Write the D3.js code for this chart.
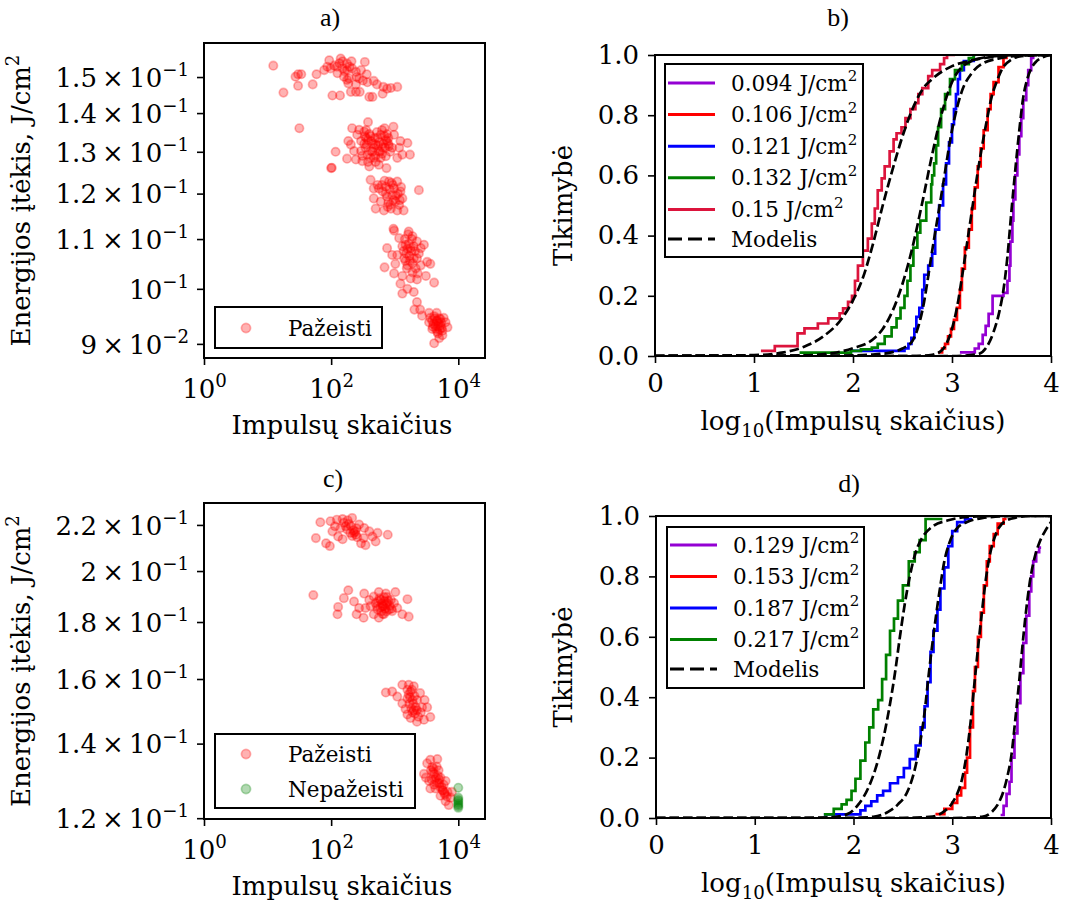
<!DOCTYPE html>
<html>
<head>
<meta charset="utf-8">
<script src="https://cdn.jsdelivr.net/npm/d3@7"></script>
<style>
body{margin:0;background:#fff}
svg{display:block}
</style>
</head>
<body>
<script>
// ---- duomenys: [log10(impulsu skaicius), energijos itekis J/cm2] ----
var scatA150 = [[1.09,0.1533],[1.25,0.1456],[1.44,0.1501],[1.48,0.1508],[1.53,0.1508],[1.48,0.1475],[1.71,0.1479],[1.77,0.1508],[1.89,0.1520],[1.97,0.1549],[1.99,0.1525],[2.05,0.1533],[2.15,0.1554],[2.18,0.1546],[2.25,0.1539],[2.32,0.1546],[2.10,0.1511],[2.20,0.1501],[2.28,0.1496],[2.39,0.1515],[2.44,0.1496],[2.56,0.1508],[2.53,0.1544],[2.57,0.1485],[2.67,0.1489],[2.72,0.1479],[2.82,0.1472],[2.88,0.1467],[3.04,0.1472],[2.02,0.1448],[2.14,0.1448],[2.31,0.1458],[2.39,0.1458],[2.45,0.1458],[2.60,0.1444],[2.65,0.1444],[2.81,0.1453],[2.94,0.1469],[2.27,0.1482],[2.39,0.1479],[2.09,0.1530],[2.21,0.1517],[1.94,0.1530],[2.33,0.1525],[2.25,0.1492],[2.47,0.1520],[2.18,0.1525],[2.25,0.1520],[2.13,0.1540],[2.29,0.1530],[2.40,0.1500],[2.50,0.1490]];
var scatA132 = [[1.50,0.1360],[2.07,0.1300],[2.00,0.1260],[2.01,0.1261],[2.25,0.1283],[2.27,0.1327],[2.33,0.1360],[2.44,0.1356],[2.52,0.1351],[2.58,0.1376],[2.47,0.1327],[2.56,0.1318],[2.62,0.1302],[2.36,0.1302],[2.39,0.1281],[2.49,0.1277],[2.60,0.1264],[2.67,0.1285],[2.70,0.1318],[2.78,0.1343],[2.84,0.1360],[2.98,0.1364],[2.88,0.1327],[2.96,0.1310],[3.09,0.1327],[3.20,0.1322],[3.24,0.1293],[3.12,0.1293],[3.04,0.1285],[2.87,0.1260],[2.75,0.1268],[2.81,0.1310],[2.53,0.1339],[2.41,0.1343],[2.73,0.1335],[2.63,0.1327],[2.57,0.1293],[2.86,0.1289],[2.99,0.1343],[2.91,0.1314],[2.47,0.1302],[2.67,0.1310],[2.78,0.1285],[3.07,0.1310],[2.31,0.1318],[2.75,0.1302],[2.52,0.1320],[2.55,0.1335],[2.60,0.1345],[2.65,0.1300],[2.70,0.1290],[2.76,0.1325],[2.80,0.1295],[2.84,0.1340],[2.90,0.1335],[2.93,0.1300],[2.58,0.1275],[2.72,0.1350],[2.85,0.1310],[2.49,0.1290],[2.54,0.1310],[2.58,0.1330],[2.62,0.1340],[2.66,0.1320],[2.69,0.1335],[2.74,0.1315],[2.77,0.1300],[2.82,0.1320],[2.86,0.1330],[2.90,0.1320],[2.62,0.1285],[2.70,0.1275],[2.55,0.1355],[2.88,0.1345],[2.80,0.1355]];
var scatA121 = [[2.62,0.1232],[2.73,0.1220],[2.67,0.1189],[2.75,0.1212],[2.70,0.1166],[2.83,0.1162],[2.94,0.1166],[3.04,0.1162],[3.14,0.1162],[2.99,0.1212],[2.91,0.1228],[3.04,0.1228],[3.09,0.1205],[3.12,0.1189],[3.01,0.1182],[2.88,0.1193],[2.78,0.1182],[2.81,0.1205],[3.38,0.1208],[2.96,0.1197],[2.86,0.1216],[3.07,0.1174],[2.67,0.1212],[2.90,0.1180],[2.97,0.1220],[3.02,0.1195],[2.84,0.1230],[3.10,0.1215],[2.93,0.1175],[2.86,0.1200],[2.92,0.1210],[2.98,0.1185],[3.05,0.1200],[2.80,0.1220],[2.89,0.1170],[3.08,0.1185],[2.95,0.1225]];
var scatA106 = [[2.98,0.1122],[2.99,0.1118],[2.88,0.1081],[2.84,0.1042],[2.99,0.1030],[3.09,0.1010],[3.22,0.1116],[3.35,0.1095],[3.41,0.1081],[3.46,0.1088],[3.51,0.1053],[3.56,0.1049],[3.62,0.1012],[3.49,0.1025],[3.35,0.1018],[3.30,0.0994],[3.20,0.1000],[3.12,0.0991],[3.28,0.1032],[3.15,0.1060],[3.04,0.1067],[3.25,0.1081],[3.30,0.1060],[3.17,0.1088],[3.07,0.1102],[3.20,0.1046],[3.41,0.1046],[3.12,0.1025],[3.01,0.1049],[3.35,0.1060],[3.28,0.1106],[2.96,0.1067],[3.18,0.1070],[3.22,0.1090],[3.26,0.1075],[3.24,0.1055],[3.30,0.1085],[3.19,0.1040],[3.33,0.1040],[3.14,0.1075],[3.27,0.1100],[3.38,0.1070],[3.12,0.1085],[3.16,0.1100],[3.20,0.1080],[3.23,0.1065],[3.28,0.1050],[3.32,0.1075],[3.17,0.1055],[3.36,0.1030],[3.25,0.1020],[3.21,0.1110]];
var scatA094 = [[3.35,0.0975],[3.40,0.0961],[3.31,0.0961],[3.43,0.0950],[3.54,0.0955],[3.62,0.0949],[3.72,0.0944],[3.80,0.0938],[3.83,0.0929],[3.75,0.0923],[3.67,0.0921],[3.59,0.0926],[3.54,0.0938],[3.62,0.0901],[3.70,0.0910],[3.64,0.0932],[3.72,0.0932],[3.77,0.0946],[3.67,0.0941],[3.59,0.0941],[3.75,0.0915],[3.56,0.0946],[3.66,0.0955],[3.69,0.0936],[3.74,0.0928],[3.65,0.0926],[3.70,0.0945],[3.61,0.0935],[3.68,0.0918],[3.66,0.0940],[3.71,0.0925],[3.63,0.0945],[3.73,0.0938],[3.68,0.0930],[3.60,0.0930]];

var scatC217 = [[1.83,0.2212],[1.76,0.2141],[1.99,0.2217],[2.02,0.2171],[1.92,0.2118],[1.98,0.2106],[2.09,0.2224],[2.18,0.2227],[2.26,0.2221],[2.33,0.2232],[2.15,0.2186],[2.23,0.2194],[2.18,0.2136],[2.36,0.2164],[2.39,0.2156],[2.44,0.2202],[2.52,0.2186],[2.47,0.2118],[2.54,0.2110],[2.60,0.2171],[2.65,0.2148],[2.73,0.2164],[2.70,0.2126],[2.89,0.2156],[2.30,0.2164],[2.41,0.2145],[2.11,0.2148],[2.06,0.2194],[2.31,0.2194],[2.51,0.2141],[2.35,0.2175],[2.38,0.2170],[2.28,0.2205],[2.25,0.2180],[2.33,0.2150],[2.20,0.2210],[2.40,0.2185]];
var scatC187 = [[1.72,0.1903],[2.11,0.1857],[2.10,0.1829],[2.20,0.1891],[2.27,0.1922],[2.36,0.1878],[2.40,0.1829],[2.51,0.1816],[2.52,0.1909],[2.60,0.1884],[2.67,0.1897],[2.75,0.1915],[2.86,0.1909],[3.01,0.1915],[3.20,0.1887],[3.22,0.1820],[3.12,0.1829],[3.04,0.1853],[2.96,0.1841],[2.88,0.1872],[2.81,0.1860],[2.73,0.1847],[2.75,0.1816],[2.67,0.1829],[2.83,0.1829],[2.94,0.1884],[2.62,0.1860],[2.78,0.1884],[2.91,0.1847],[2.70,0.1872],[2.99,0.1872],[2.54,0.1853],[2.44,0.1853],[2.80,0.1870],[2.85,0.1850],[2.76,0.1890],[2.88,0.1895],[2.79,0.1840],[2.92,0.1862],[2.84,0.1880],[2.72,0.1860],[2.82,0.1860],[2.87,0.1840],[2.77,0.1855],[2.90,0.1880],[2.83,0.1895],[2.74,0.1880],[2.95,0.1850],[2.86,0.1865],[2.81,0.1830]];
var scatC153 = [[2.86,0.1556],[2.96,0.1559],[3.04,0.1543],[3.12,0.1581],[3.22,0.1581],[3.30,0.1576],[3.40,0.1554],[3.47,0.1532],[3.51,0.1509],[3.56,0.1479],[3.46,0.1471],[3.35,0.1465],[3.25,0.1476],[3.20,0.1487],[3.12,0.1521],[3.20,0.1537],[3.28,0.1532],[3.33,0.1509],[3.17,0.1504],[3.28,0.1493],[3.41,0.1493],[3.25,0.1559],[3.35,0.1532],[3.43,0.1509],[3.27,0.1565],[3.23,0.1520],[3.31,0.1545],[3.37,0.1480],[3.22,0.1550],[3.30,0.1500],[3.24,0.1540],[3.29,0.1520],[3.26,0.1505],[3.32,0.1490],[3.20,0.1565],[3.35,0.1500]];
var scatC129 = [[3.51,0.1344],[3.56,0.1354],[3.67,0.1356],[3.49,0.1305],[3.54,0.1296],[3.62,0.1315],[3.72,0.1305],[3.77,0.1286],[3.83,0.1267],[3.88,0.1252],[3.80,0.1243],[3.72,0.1257],[3.64,0.1276],[3.59,0.1334],[3.69,0.1325],[3.75,0.1272],[3.85,0.1233],[3.67,0.1291],[3.56,0.1276],[3.46,0.1315],[3.62,0.1286],[3.80,0.1296],[3.90,0.1267],[3.60,0.1320],[3.65,0.1305],[3.70,0.1290],[3.74,0.1280],[3.78,0.1265],[3.66,0.1335],[3.58,0.1300],[3.82,0.1255],[3.63,0.1300],[3.68,0.1310],[3.71,0.1280],[3.76,0.1270],[3.61,0.1330],[3.70,0.1300],[3.79,0.1260],[3.57,0.1325]];
var scatCnepaz = [[4.0,0.1278],[4.0,0.1252],[4.0,0.1247],[4.0,0.1243],[4.0,0.1238],[4.0,0.1234],[4.0,0.1230],[4.0,0.1226]];

// ---- ECDF laiptai: [log10(N), tikimybe] ----
var ecdfB094 = [[3.08,0.012],[3.23,0.025],[3.27,0.04],[3.31,0.07],[3.34,0.1],[3.37,0.14],[3.41,0.2],[3.52,0.21],[3.56,0.25],[3.58,0.3],[3.59,0.38],[3.61,0.45],[3.62,0.52],[3.64,0.6],[3.66,0.67],[3.68,0.73],[3.7,0.79],[3.72,0.85],[3.75,0.9],[3.77,0.95],[3.8,0.99],[3.82,1.0]];
var ecdfB106 = [[2.86,0.012],[2.9,0.025],[2.93,0.04],[2.96,0.065],[2.99,0.09],[3.02,0.12],[3.05,0.16],[3.08,0.22],[3.1,0.29],[3.13,0.36],[3.17,0.42],[3.2,0.49],[3.23,0.56],[3.26,0.63],[3.29,0.69],[3.32,0.75],[3.36,0.82],[3.39,0.87],[3.42,0.91],[3.47,0.96],[3.52,0.99],[3.55,1.0]];
var ecdfB121 = [[1.98,0.017],[2.52,0.025],[2.56,0.04],[2.59,0.06],[2.62,0.09],[2.64,0.13],[2.67,0.16],[2.7,0.22],[2.72,0.27],[2.76,0.3],[2.8,0.34],[2.83,0.42],[2.87,0.5],[2.91,0.57],[2.94,0.64],[2.97,0.71],[3.0,0.77],[3.02,0.82],[3.04,0.87],[3.06,0.92],[3.08,0.95],[3.12,0.98],[3.22,1.0]];
var ecdfB132 = [[1.46,0.011],[1.98,0.017],[2.08,0.022],[2.19,0.028],[2.25,0.04],[2.32,0.065],[2.39,0.095],[2.44,0.125],[2.48,0.16],[2.52,0.2],[2.55,0.25],[2.58,0.3],[2.61,0.36],[2.65,0.41],[2.68,0.45],[2.74,0.51],[2.79,0.57],[2.8,0.6],[2.82,0.64],[2.84,0.7],[2.86,0.76],[2.89,0.82],[2.93,0.87],[2.98,0.92],[3.03,0.95],[3.1,0.97],[3.17,0.99],[3.22,1.0]];
var ecdfB150 = [[1.07,0.017],[1.21,0.033],[1.44,0.075],[1.51,0.092],[1.645,0.108],[1.75,0.125],[1.865,0.142],[1.9,0.158],[1.95,0.18],[1.99,0.2],[2.02,0.25],[2.05,0.3],[2.1,0.35],[2.15,0.39],[2.19,0.44],[2.22,0.49],[2.25,0.55],[2.29,0.59],[2.32,0.63],[2.37,0.68],[2.41,0.72],[2.44,0.74],[2.49,0.76],[2.53,0.79],[2.58,0.82],[2.63,0.84],[2.66,0.87],[2.7,0.89],[2.76,0.93],[2.8,0.95],[2.88,0.97],[2.92,0.99],[2.95,1.0],[3.03,1.0]];

var modelB094 = [[0,0],[3.0,0],[3.25,0.005],[3.35,0.03],[3.42,0.08],[3.48,0.15],[3.52,0.22],[3.56,0.33],[3.6,0.48],[3.64,0.62],[3.68,0.75],[3.72,0.86],[3.76,0.92],[3.8,0.955],[3.85,0.978],[3.9,0.99],[4.0,1.0]];
var modelB106 = [[0,0],[2.6,0],[2.8,0.004],[2.9,0.02],[2.95,0.045],[3.0,0.09],[3.05,0.16],[3.1,0.26],[3.15,0.37],[3.2,0.48],[3.25,0.59],[3.3,0.69],[3.35,0.78],[3.4,0.86],[3.45,0.91],[3.5,0.95],[3.6,0.985],[3.7,0.996],[3.9,1.0],[4,1]];
var modelB121 = [[0,0],[1.8,0.001],[2.2,0.005],[2.4,0.013],[2.5,0.025],[2.6,0.05],[2.7,0.15],[2.8,0.35],[2.9,0.55],[3.0,0.75],[3.1,0.88],[3.2,0.94],[3.3,0.97],[3.5,0.99],[3.8,1.0],[4,1]];
var modelB132 = [[0,0],[1.5,0.002],[1.8,0.01],[2.0,0.026],[2.2,0.055],[2.3,0.09],[2.4,0.15],[2.5,0.24],[2.6,0.36],[2.7,0.51],[2.8,0.67],[2.9,0.81],[3.0,0.91],[3.1,0.96],[3.2,0.98],[3.4,0.995],[3.7,1.0],[4,1]];
var modelB150 = [[0,0],[1.0,0.003],[1.3,0.012],[1.5,0.03],[1.7,0.065],[1.9,0.13],[2.0,0.185],[2.1,0.26],[2.2,0.37],[2.3,0.5],[2.4,0.62],[2.5,0.73],[2.6,0.82],[2.7,0.885],[2.8,0.92],[3.0,0.963],[3.2,0.982],[3.5,0.996],[4.0,1.0]];

var ecdfD129 = [[3.49,0.01],[3.52,0.04],[3.55,0.08],[3.58,0.12],[3.6,0.2],[3.63,0.28],[3.66,0.38],[3.69,0.48],[3.72,0.58],[3.75,0.67],[3.78,0.75],[3.8,0.8],[3.82,0.85],[3.85,0.88],[3.88,0.895],[3.9,0.895]];
var ecdfD153 = [[2.83,0.013],[2.92,0.03],[3.0,0.05],[3.05,0.075],[3.09,0.1],[3.13,0.15],[3.15,0.2],[3.18,0.3],[3.21,0.42],[3.23,0.5],[3.26,0.6],[3.29,0.68],[3.32,0.77],[3.35,0.85],[3.38,0.9],[3.42,0.94],[3.46,0.975],[3.52,0.99],[3.55,0.99]];
var ecdfD187 = [[1.7,0.012],[2.07,0.025],[2.12,0.04],[2.18,0.055],[2.24,0.075],[2.3,0.09],[2.37,0.115],[2.45,0.135],[2.51,0.165],[2.57,0.195],[2.63,0.24],[2.68,0.3],[2.72,0.37],[2.75,0.45],[2.78,0.55],[2.81,0.62],[2.85,0.69],[2.88,0.76],[2.92,0.83],[2.96,0.9],[3.0,0.95],[3.05,0.98],[3.13,0.99],[3.2,0.99]];
var ecdfD217 = [[1.7,0.012],[1.8,0.03],[1.88,0.045],[1.93,0.06],[1.98,0.09],[2.02,0.13],[2.07,0.19],[2.12,0.25],[2.16,0.3],[2.2,0.36],[2.25,0.39],[2.29,0.46],[2.33,0.54],[2.37,0.62],[2.41,0.66],[2.45,0.72],[2.5,0.77],[2.56,0.85],[2.62,0.88],[2.67,0.92],[2.73,0.99],[2.9,0.99]];

var modelD129 = [[0,0],[3.0,0],[3.3,0.004],[3.4,0.02],[3.47,0.05],[3.52,0.09],[3.56,0.14],[3.6,0.21],[3.64,0.33],[3.68,0.46],[3.72,0.6],[3.76,0.72],[3.8,0.81],[3.84,0.87],[3.88,0.91],[3.94,0.95],[4.0,0.98]];
var modelD153 = [[0,0],[2.5,0],[2.8,0.005],[2.9,0.018],[3.0,0.05],[3.05,0.08],[3.1,0.13],[3.14,0.2],[3.18,0.3],[3.22,0.43],[3.26,0.56],[3.3,0.68],[3.34,0.79],[3.38,0.87],[3.42,0.92],[3.47,0.96],[3.55,0.985],[3.65,0.995],[3.8,1.0],[4,1]];
var modelD187 = [[0,0],[2.0,0],[2.2,0.004],[2.35,0.02],[2.45,0.045],[2.55,0.09],[2.62,0.16],[2.67,0.24],[2.72,0.35],[2.76,0.47],[2.8,0.58],[2.84,0.68],[2.88,0.77],[2.92,0.85],[2.97,0.91],[3.05,0.96],[3.15,0.98],[3.3,0.993],[3.6,1.0],[4,1]];
var modelD217 = [[0,0],[1.5,0],[1.8,0.003],[1.95,0.015],[2.05,0.045],[2.15,0.1],[2.22,0.16],[2.3,0.26],[2.36,0.36],[2.42,0.48],[2.47,0.6],[2.52,0.71],[2.57,0.8],[2.63,0.88],[2.7,0.93],[2.8,0.965],[2.95,0.985],[3.1,0.995],[3.4,1.0],[4,1]];

// ---- asys ir uzrasai ----
var yTicksA = [0.09, 0.10, 0.11, 0.12, 0.13, 0.14, 0.15];
var yMantA = ["9", "", "1.1", "1.2", "1.3", "1.4", "1.5"];
var yExpA = ["\u22122", "\u22121", "\u22121", "\u22121", "\u22121", "\u22121", "\u22121"];
var yTicksC = [0.12, 0.14, 0.16, 0.18, 0.20, 0.22];
var yMantC = ["1.2", "1.4", "1.6", "1.8", "2", "2.2"];
var yExpC = ["\u22121", "\u22121", "\u22121", "\u22121", "\u22121", "\u22121"];
var xTicksLog = [1, 100, 10000];
var xExpLog = ["0", "2", "4"];
var xTicksLin = [0, 1, 2, 3, 4];
var yTicksLin = [0, 0.2, 0.4, 0.6, 0.8, 1.0];

var legB = ["0.094", "0.106", "0.121", "0.132", "0.15"];
var colB = ["#9400d3", "#ff0000", "#0000ff", "#008000", "#dc143c"];
var legD = ["0.129", "0.153", "0.187", "0.217"];
var colD = ["#9400d3", "#ff0000", "#0000ff", "#008000"];

var TICK_FS = 26, LAB_FS = 26, LEG_FS = 21.5, TIT_FS = 26;

var svg = d3.select("body").append("svg")
    .attr("width", 1075).attr("height", 904)
    .style("font-family", "'DejaVu Serif', serif");

function supLabel(t, main, sup, fs){
    t.text(null);
    t.append("tspan").text(main);
    t.append("tspan").attr("dy", -0.42 * fs).attr("font-size", 0.7 * fs).text(sup);
}

function frame(b){
    svg.append("rect").attr("x", b.x0).attr("y", b.y0)
        .attr("width", b.x1 - b.x0).attr("height", b.y1 - b.y0)
        .attr("fill", "none").attr("stroke", "#000").attr("stroke-width", 2);
}

function styleAxis(g){
    g.select(".domain").remove();
    g.selectAll(".tick line").attr("stroke", "#000").attr("stroke-width", 1.6);
    g.attr("font-family", null).attr("font-size", null);
    g.selectAll(".tick text").attr("fill", "#000").attr("font-size", TICK_FS);
}

function scatterPanel(b, yDom, yTicks, yMant, yExp, redGroups, greenPts, legRows, leg){
    var x = d3.scaleLog().domain([1, Math.pow(10, 4.42)]).range([b.x0, b.x1]);
    var y = d3.scaleLog().domain(yDom).range([b.y1, b.y0]);

    redGroups.forEach(function(g){
        svg.append("g").selectAll("circle").data(g).enter().append("circle")
            .attr("cx", function(d){ return x(Math.pow(10, d[0])); })
            .attr("cy", function(d){ return y(d[1]); })
            .attr("r", 4.2)
            .attr("fill", "rgba(255,0,0,0.3)")
            .attr("stroke", "rgba(255,0,0,0.3)").attr("stroke-width", 1.7);
    });
    if (greenPts){
        svg.append("g").selectAll("circle").data(greenPts).enter().append("circle")
            .attr("cx", function(d){ return x(Math.pow(10, d[0])); })
            .attr("cy", function(d){ return y(d[1]); })
            .attr("r", 4.2)
            .attr("fill", "rgba(0,128,0,0.3)")
            .attr("stroke", "rgba(0,128,0,0.3)").attr("stroke-width", 1.7);
    }

    var gx = svg.append("g").attr("transform", "translate(0," + b.y1 + ")")
        .call(d3.axisBottom(x).tickValues(xTicksLog).tickSize(7).tickPadding(9).tickFormat(function(){ return ""; }));
    styleAxis(gx);
    gx.selectAll(".tick text").attr("dy", "0.92em").each(function(d, i){
        supLabel(d3.select(this), "10", xExpLog[i], TICK_FS);
    });

    var gy = svg.append("g").attr("transform", "translate(" + b.x0 + ",0)")
        .call(d3.axisLeft(y).tickValues(yTicks).tickSize(7).tickPadding(8).tickFormat(function(){ return ""; }));
    styleAxis(gy);
    gy.selectAll(".tick text").attr("dy", "0.36em").each(function(d, i){
        supLabel(d3.select(this), yMant[i] ? yMant[i] + "\u2009\u00d7\u200910" : "10", yExp[i], TICK_FS);
    });

    frame(b);

    // legenda
    svg.append("rect").attr("x", leg.x).attr("y", leg.y).attr("width", leg.w).attr("height", leg.h)
        .attr("fill", "#fff").attr("stroke", "#000").attr("stroke-width", 2);
    legRows.forEach(function(r, i){
        var cy = leg.y + leg.first + i * leg.step;
        svg.append("circle").attr("cx", leg.x + 31).attr("cy", cy).attr("r", 4.6)
            .attr("fill", r.c).attr("stroke", r.c).attr("stroke-width", 1.7);
        svg.append("text").attr("x", leg.x + 73).attr("y", cy + 7.5)
            .attr("font-size", LEG_FS).text(r.t);
    });

    // asiu pavadinimai
    svg.append("text").attr("x", 342).attr("y", b.y1 + 76).attr("text-anchor", "middle")
        .attr("font-size", LAB_FS).text("Impulsų skaičius");
    var yl = svg.append("text")
        .attr("transform", "translate(30," + (b.y0 + b.y1) / 2 + ") rotate(-90)")
        .attr("text-anchor", "middle").attr("font-size", LAB_FS);
    supLabel(yl, "Energijos įtėkis, J/cm", "2", LAB_FS);
}

function ecdfPanel(b, ecdfs, models, cols, labels, leg, id){
    var x = d3.scaleLinear().domain([0, 4]).range([b.x0, b.x1]);
    var y = d3.scaleLinear().domain([0, 1]).range([b.y1, b.y0]);

    svg.append("clipPath").attr("id", id).append("rect")
        .attr("x", b.x0).attr("y", b.y0).attr("width", b.x1 - b.x0).attr("height", b.y1 - b.y0);
    var plot = svg.append("g").attr("clip-path", "url(#" + id + ")");

    var step = d3.line().x(function(d){ return x(d[0]); }).y(function(d){ return y(d[1]); })
        .curve(d3.curveStepAfter);
    var smooth = d3.line().x(function(d){ return x(d[0]); }).y(function(d){ return y(d[1]); })
        .curve(d3.curveMonotoneX);

    ecdfs.forEach(function(s, i){
        plot.append("path").attr("d", step(s)).attr("fill", "none")
            .attr("stroke", cols[i]).attr("stroke-width", 2.7);
        plot.append("path").attr("d", smooth(models[i])).attr("fill", "none")
            .attr("stroke", "#000").attr("stroke-width", 2.7).attr("stroke-dasharray", "9.5,4");
    });

    var gx = svg.append("g").attr("transform", "translate(0," + b.y1 + ")")
        .call(d3.axisBottom(x).tickValues(xTicksLin).tickSize(7).tickPadding(9).tickFormat(d3.format("d")));
    styleAxis(gx);
    gx.selectAll(".tick text").attr("dy", "0.75em");

    var gy = svg.append("g").attr("transform", "translate(" + b.x0 + ",0)")
        .call(d3.axisLeft(y).tickValues(yTicksLin).tickSize(7).tickPadding(9).tickFormat(d3.format(".1f")));
    styleAxis(gy);

    frame(b);

    // legenda
    svg.append("rect").attr("x", leg.x).attr("y", leg.y).attr("width", leg.w).attr("height", leg.h)
        .attr("fill", "#fff").attr("stroke", "#000").attr("stroke-width", 2);
    labels.forEach(function(l, i){
        var cy = leg.y + leg.first + i * leg.step;
        svg.append("line").attr("x1", leg.x + 3).attr("x2", leg.x + 50).attr("y1", cy).attr("y2", cy)
            .attr("stroke", cols[i]).attr("stroke-width", 3);
        var t = svg.append("text").attr("x", leg.x + 66).attr("y", cy + 7.5).attr("font-size", LEG_FS);
        supLabel(t, l + " J/cm", "2", LEG_FS);
    });
    var cyM = leg.y + leg.first + labels.length * leg.step - 2;
    svg.append("line").attr("x1", leg.x + 3).attr("x2", leg.x + 50).attr("y1", cyM).attr("y2", cyM)
        .attr("stroke", "#000").attr("stroke-width", 3).attr("stroke-dasharray", "14,6");
    svg.append("text").attr("x", leg.x + 66).attr("y", cyM + 7.5).attr("font-size", LEG_FS).text("Modelis");

    var xl = svg.append("text").attr("x", (b.x0 + b.x1) / 2).attr("y", b.y1 + 74)
        .attr("text-anchor", "middle").attr("font-size", LAB_FS);
    xl.append("tspan").text("log");
    xl.append("tspan").attr("dy", 0.28 * LAB_FS).attr("font-size", 0.7 * LAB_FS).text("10");
    xl.append("tspan").attr("dy", -0.28 * LAB_FS).text("(Impulsų skaičius)");

    svg.append("text")
        .attr("transform", "translate(572," + (b.y0 + b.y1) / 2 + ") rotate(-90)")
        .attr("text-anchor", "middle").attr("font-size", LAB_FS).text("Tikimybė");
}

var boxA = {x0: 204, x1: 485, y0: 43, y1: 358};
var boxB = {x0: 655, x1: 1051, y0: 55, y1: 356};
var boxC = {x0: 204, x1: 485, y0: 503, y1: 819};
var boxD = {x0: 656, x1: 1051, y0: 516, y1: 818};

scatterPanel(boxA, [0.0876, 0.1601], yTicksA, yMantA, yExpA,
    [scatA150, scatA132, scatA121, scatA106, scatA094], null,
    [{t: "Pažeisti", c: "rgba(255,0,0,0.3)"}],
    {x: 215, y: 307, w: 167, h: 41, first: 21, step: 35});

scatterPanel(boxC, [0.1198, 0.2302], yTicksC, yMantC, yExpC,
    [scatC217, scatC187, scatC153, scatC129], scatCnepaz,
    [{t: "Pažeisti", c: "rgba(255,0,0,0.3)"}, {t: "Nepažeisti", c: "rgba(0,128,0,0.3)"}],
    {x: 215, y: 734, w: 200, h: 74, first: 20, step: 35});

ecdfPanel(boxB, [ecdfB094, ecdfB106, ecdfB121, ecdfB132, ecdfB150],
    [modelB094, modelB106, modelB121, modelB132, modelB150], colB, legB,
    {x: 665, y: 64, w: 198, h: 193, first: 19, step: 31.6}, "clipB");

ecdfPanel(boxD, [ecdfD129, ecdfD153, ecdfD187, ecdfD217],
    [modelD129, modelD153, modelD187, modelD217], colD, legD,
    {x: 667, y: 527, w: 197, h: 161, first: 18, step: 31.5}, "clipD");

// pavadinimai
var titles = [["a)", 330, 26], ["b)", 838, 26], ["c)", 333, 487], ["d)", 849, 492]];
titles.forEach(function(t){
    svg.append("text").attr("x", t[1]).attr("y", t[2]).attr("text-anchor", "middle")
        .style("font-family", "'Liberation Serif', 'Times New Roman', serif")
        .attr("font-size", TIT_FS).text(t[0]);
});
</script>
</body>
</html>
